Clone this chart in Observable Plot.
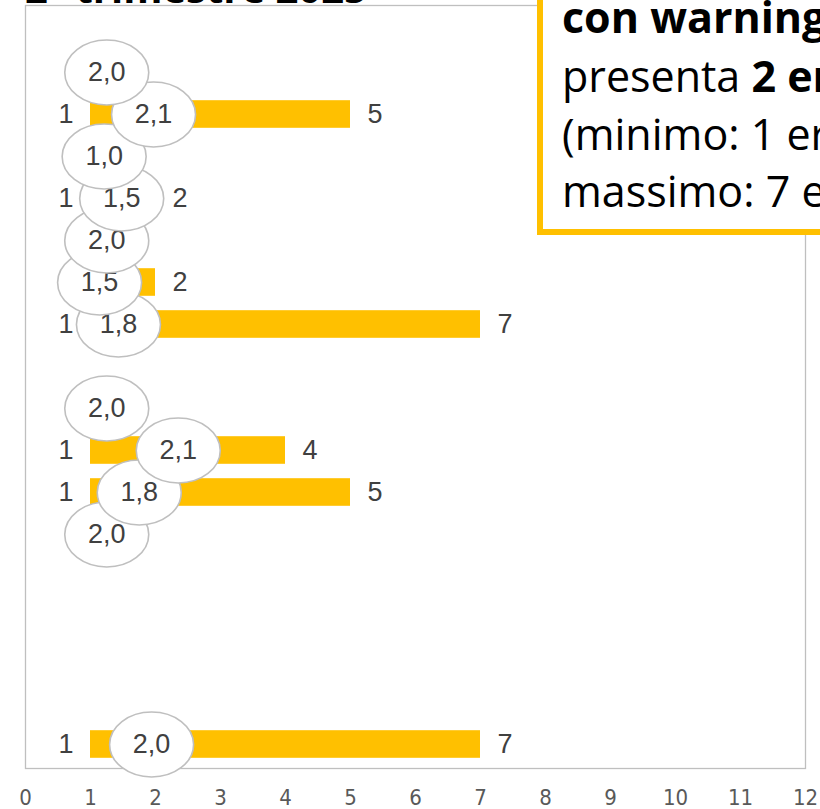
<!DOCTYPE html>
<html><head><meta charset="utf-8">
<script src="https://cdn.jsdelivr.net/npm/d3@7"></script>
<script src="https://cdn.jsdelivr.net/npm/@observablehq/plot@0.6"></script>
<style>
html,body{margin:0;padding:0;background:#fff;overflow:hidden}
#wrap{position:relative;width:820px;height:809px;overflow:hidden;background:#fff}
#wrap > svg{position:absolute;left:0;top:0;overflow:visible}
#wrap g[aria-label="x-axis tick label"]{font-size:22px}
#wrap g[aria-label="x-axis tick label"] text{font-family:"Liberation Sans Narrow","Arial Narrow","DejaVu Sans Condensed",sans-serif;font-size:22px}
</style></head><body><div id="wrap"></div>
<script>
// ---- data ----
const categories = ["R1","R2","R3","R4","R5","R6","R7","R8","R9","R10","R11","R12","R13","R14","R15","R16","R17","R18"];
const minErr  = [null, null, 1, null, 1, null, 1, 1, null, null, 1, 1, null, null, null, null, null, 1];
const maxErr  = [null, null, 5, null, 2, null, 2, 7, null, null, 4, 5, null, null, null, null, null, 7];
const meanErr = [null, 2.0, 2.1, 1.0, 1.5, 2.0, 1.5, 1.8, null, 2.0, 2.1, 1.8, 2.0, null, null, null, null, 2.0];
// where each mean bubble sits along the x axis (as placed in the original chart)
const meanLabelAt = [null, 1.25, 1.97, 1.21, 1.48, 1.25, 1.14, 1.43, null, 1.25, 2.35, 1.75, 1.25, null, null, null, null, 1.94];
const xTicks = [0,1,2,3,4,5,6,7,8,9,10,11,12];
const titleText = "2° trimestre 2025";
const calloutLines = [
  [{t:"con warning", b:true}],
  [{t:"presenta ", b:false},{t:"2 errori", b:true}],
  [{t:"(minimo: 1 errore,", b:false}],
  [{t:"massimo: 7 errori)", b:false}]
];

const rows = categories.map((c,i)=>({cat:c, min:minErr[i], max:maxErr[i], mean:meanErr[i], at:meanLabelAt[i]}));
const bars = rows.filter(d=>d.min!=null && d.max!=null);
const means = rows.filter(d=>d.mean!=null);

const K = 0.5523;
const ellipse = {
  draw(ctx, size){
    const ry = Math.sqrt(size/Math.PI), rx = ry*42/32.5;
    ctx.moveTo(rx,0);
    ctx.bezierCurveTo(rx, ry*K, rx*K, ry, 0, ry);
    ctx.bezierCurveTo(-rx*K, ry, -rx, ry*K, -rx, 0);
    ctx.bezierCurveTo(-rx, -ry*K, -rx*K, -ry, 0, -ry);
    ctx.bezierCurveTo(rx*K, -ry, rx, -ry*K, rx, 0);
    ctx.closePath();
  }
};
const fmt = v => v.toFixed(1).replace(".", ",");
const labelFont = "'Liberation Sans', Arial, sans-serif";

const meanMarks = [];
for (const d of [...means].reverse()) {
  meanMarks.push(Plot.dot([d], {x:"at", y:"cat", symbol: ellipse, r:32.5, fill:"white", stroke:"#BFBFBF", strokeWidth:1.6}));
  meanMarks.push(Plot.text([d], {x:"at", y:"cat", text: e=>fmt(e.mean), fill:"#404040", fontSize:27}));
}

const chart = Plot.plot({
  width:820, height:809,
  marginLeft:25, marginRight:15, marginTop:5, marginBottom:41,
  style:{fontFamily:labelFont, background:"white"},
  x:{domain:[0,12]},
  y:{domain:categories, axis:null, padding:0},
  marks:[
    Plot.frame({stroke:"#BFBFBF", strokeWidth:1.3}),
    Plot.axisX({ticks:xTicks, tickSize:0, tickPadding:21, fontSize:22, color:"#595959", tickFormat:d=>String(d)}),
    Plot.barX(bars, {x1:"min", x2:"max", y:"cat", fill:"#FFC000", insetTop:7.2, insetBottom:7.2}),
    Plot.text(bars, {x:"min", y:"cat", text:d=>String(d.min), textAnchor:"end", dx:-17, fill:"#404040", fontSize:27}),
    Plot.text(bars, {x:"max", y:"cat", text:d=>String(d.max), textAnchor:"start", dx:17, fill:"#404040", fontSize:27}),
    ...meanMarks
  ]
});
const wrap = document.getElementById("wrap");
wrap.appendChild(chart);

// overlay: cut-off title and callout box
const ns = "http://www.w3.org/2000/svg";
const ov = document.createElementNS(ns, "svg");
ov.setAttribute("width", 820); ov.setAttribute("height", 809);
ov.setAttribute("font-family", "'Open Sans', 'Noto Sans', sans-serif");
const title = document.createElementNS(ns, "text");
title.setAttribute("x", 25); title.setAttribute("y", 3);
title.setAttribute("font-size", 40); title.setAttribute("font-weight", 700); title.setAttribute("fill", "#000");
title.textContent = titleText;
ov.appendChild(title);
const rect = document.createElementNS(ns, "rect");
rect.setAttribute("x", 540); rect.setAttribute("y", -20);
rect.setAttribute("width", 330); rect.setAttribute("height", 252);
rect.setAttribute("fill", "#fff"); rect.setAttribute("stroke", "#FFC000"); rect.setAttribute("stroke-width", 6);
ov.appendChild(rect);
const baselines = [33, 92, 150, 207];
calloutLines.forEach((line, i) => {
  const t = document.createElementNS(ns, "text");
  t.setAttribute("x", 562); t.setAttribute("y", baselines[i]);
  t.setAttribute("font-size", 43); t.setAttribute("fill", "#000");
  for (const part of line) {
    const s = document.createElementNS(ns, "tspan");
    if (part.b) s.setAttribute("font-weight", 700);
    s.textContent = part.t;
    t.appendChild(s);
  }
  ov.appendChild(t);
});
wrap.appendChild(ov);
</script>
</body></html>
